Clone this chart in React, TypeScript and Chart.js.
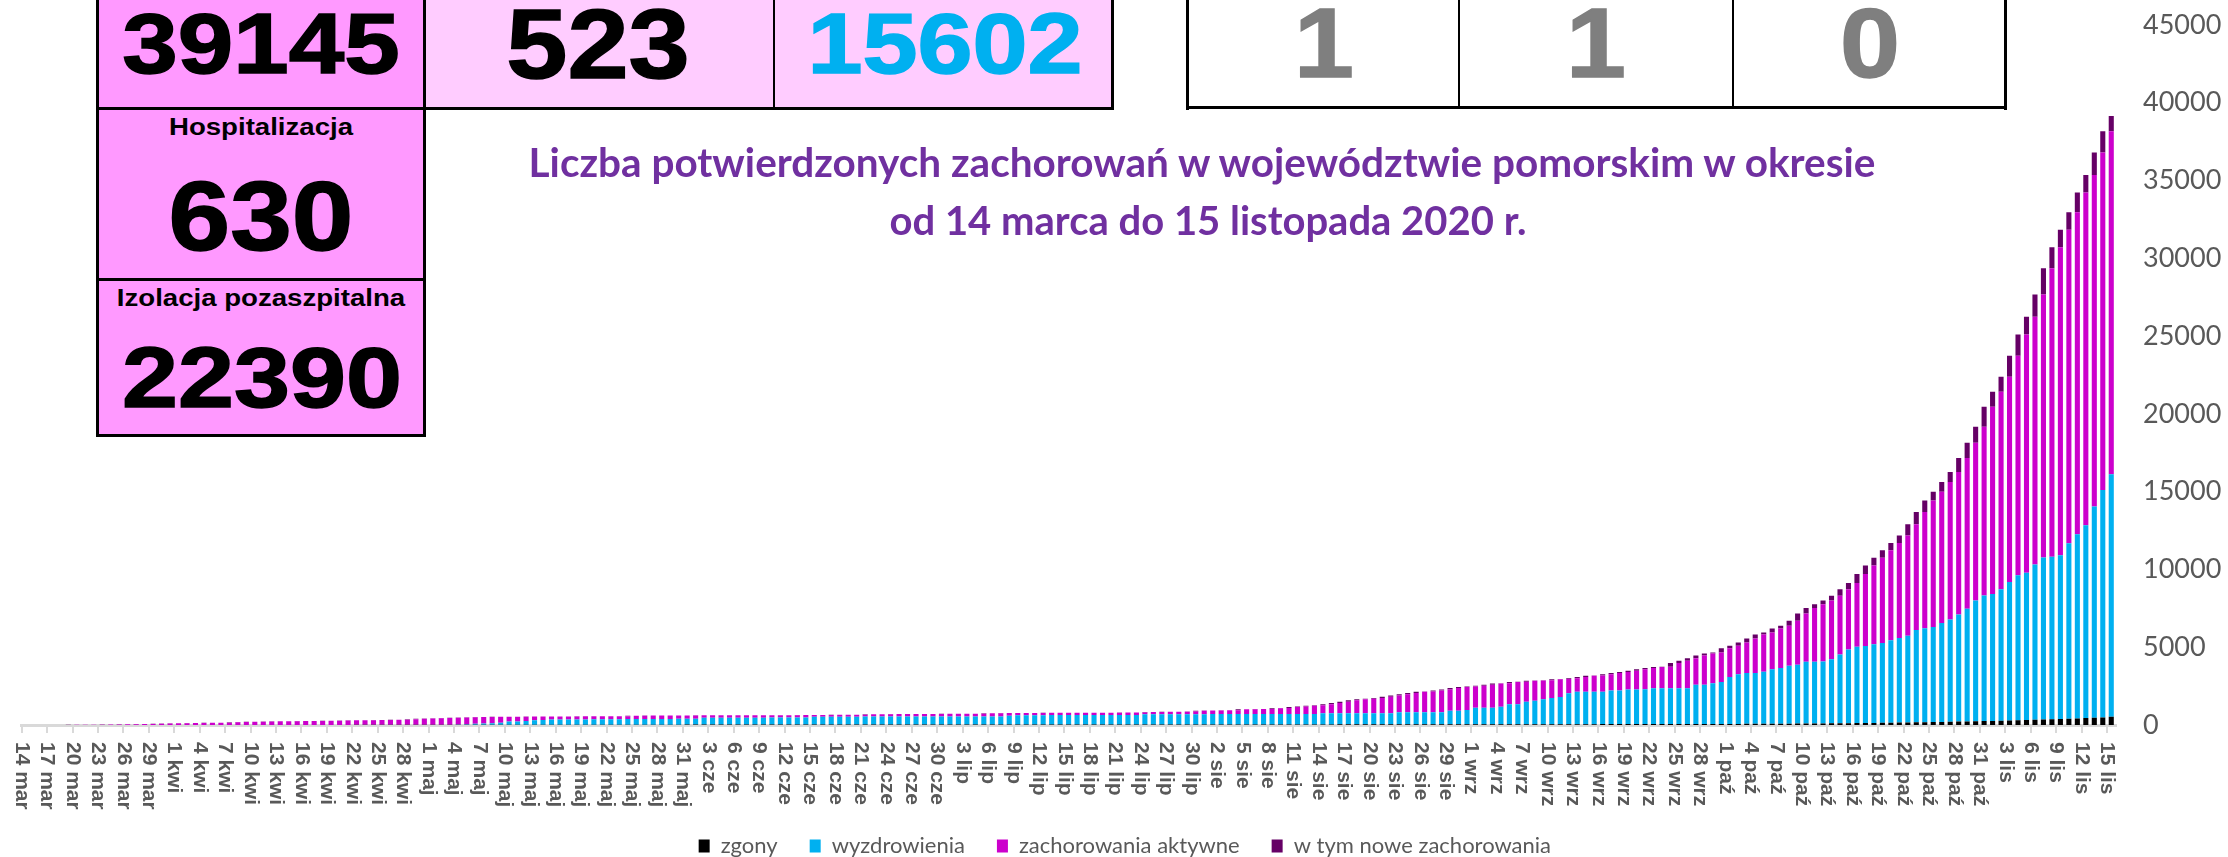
import React, { useEffect, useRef } from 'react';
import { Chart, registerables } from 'chart.js';

Chart.register(...registerables);

// ---- categories (14 mar .. 15 lis 2020) ----
const monthNames = ['mar', 'kwi', 'maj', 'cze', 'lip', 'sie', 'wrz', 'paź', 'lis'];
const monthLengths = [31, 30, 31, 30, 31, 31, 30, 31, 30];
const firstDay = 14;
const lastDay = 15;

function buildCategories(): string[] {
  const out: string[] = [];
  for (let m = 0; m < monthNames.length; m++) {
    const start = m === 0 ? firstDay : 1;
    const end = m === monthNames.length - 1 ? lastDay : monthLengths[m];
    for (let d = start; d <= end; d++) out.push(`${d} ${monthNames[m]}`);
  }
  return out;
}
const categories = buildCategories();
const tickEvery = 3;

// ---- series (cumulative) ----
const potwierdzone = [
  2, 3, 4, 6, 8, 11, 15, 19, 24, 30,
  37, 45, 54, 63, 72, 82, 95, 105, 115, 124,
  132, 140, 146, 152, 175, 190, 205, 215, 225, 234,
  240, 244, 250, 256, 262, 270, 281, 290, 299, 305,
  311, 319, 325, 331, 340, 370, 400, 421, 440, 452,
  462, 480, 498, 508, 517, 524, 530, 534, 538, 541,
  544, 547, 550, 552, 554, 555, 557, 559, 560, 562,
  565, 590, 598, 604, 608, 611, 614, 616, 618, 620,
  622, 624, 626, 627, 628, 629, 630, 631, 632, 633,
  634, 636, 638, 645, 650, 654, 657, 660, 664, 685,
  692, 697, 700, 703, 706, 709, 712, 715, 718, 720,
  722, 725, 728, 755, 762, 766, 770, 773, 776, 778,
  780, 782, 784, 786, 788, 790, 791, 792, 794, 796,
  798, 800, 835, 840, 845, 850, 855, 860, 915, 925,
  935, 942, 950, 1005, 1015, 1025, 1035, 1075, 1095, 1160,
  1185, 1240, 1265, 1330, 1410, 1500, 1585, 1650, 1680, 1735,
  1815, 1900, 1970, 2055, 2130, 2150, 2225, 2290, 2375, 2450,
  2470, 2530, 2590, 2670, 2690, 2760, 2775, 2845, 2860, 2875,
  2935, 2955, 3000, 3085, 3160, 3180, 3260, 3340, 3410, 3490,
  3580, 3665, 3730, 3750, 3985, 4135, 4285, 4460, 4600, 4660,
  4930, 5090, 5310, 5560, 5820, 5950, 6210, 6380, 6700, 7170,
  7520, 7760, 8000, 8310, 8720, 9130, 9710, 10250, 10750, 11230,
  11700, 12190, 12900, 13700, 14440, 14990, 15620, 16260, 17160, 18140,
  19180, 20460, 21430, 22390, 23740, 25110, 26250, 27680, 29360, 30710,
  31840, 32960, 34240, 35360, 36810, 38170, 39145,
];

const zgony = [
  0, 0, 0, 0, 0, 0, 0, 0, 0, 0,
  0, 0, 0, 0, 0, 0, 0, 0, 0, 0,
  1, 1, 1, 2, 2, 2, 3, 3, 3, 4,
  4, 5, 5, 6, 6, 7, 7, 8, 8, 9,
  9, 10, 10, 11, 11, 12, 12, 13, 13, 14,
  14, 15, 15, 16, 16, 17, 17, 18, 18, 19,
  19, 20, 20, 20, 21, 21, 21, 22, 22, 22,
  22, 23, 23, 23, 24, 24, 24, 24, 25, 25,
  25, 25, 25, 26, 26, 26, 26, 26, 27, 27,
  27, 27, 27, 27, 28, 28, 28, 28, 28, 29,
  29, 29, 29, 29, 29, 30, 30, 30, 30, 30,
  30, 30, 31, 31, 31, 31, 31, 31, 32, 32,
  32, 32, 32, 32, 33, 33, 33, 33, 33, 33,
  34, 34, 34, 34, 34, 35, 35, 35, 35, 35,
  36, 36, 36, 36, 37, 37, 37, 38, 38, 38,
  39, 39, 39, 40, 40, 41, 41, 42, 42, 43,
  43, 44, 44, 45, 45, 46, 46, 47, 47, 48,
  48, 49, 49, 50, 50, 51, 51, 52, 52, 53,
  53, 54, 54, 55, 56, 56, 57, 57, 58, 59,
  59, 60, 61, 61, 62, 63, 64, 65, 66, 67,
  68, 70, 72, 74, 76, 78, 81, 84, 87, 90,
  94, 98, 102, 107, 112, 117, 123, 129, 135, 142,
  149, 156, 164, 172, 180, 189, 198, 207, 217, 227,
  238, 250, 262, 275, 289, 303, 318, 334, 350, 367,
  385, 404, 424, 445, 467, 490, 523,
];

const wyzdrowienia = [
  0, 0, 0, 0, 0, 0, 0, 0, 0, 0,
  0, 0, 0, 0, 0, 0, 0, 0, 0, 0,
  0, 0, 0, 0, 0, 0, 0, 0, 0, 0,
  0, 0, 0, 0, 0, 0, 0, 0, 0, 0,
  0, 0, 0, 0, 0, 0, 0, 0, 0, 0,
  0, 20, 40, 60, 80, 100, 130, 200, 215, 240,
  290, 300, 330, 330, 330, 335, 340, 345, 350, 352,
  355, 358, 360, 362, 364, 366, 368, 380, 382, 384,
  440, 442, 444, 444, 445, 446, 447, 448, 449, 450,
  450, 450, 452, 505, 506, 507, 508, 509, 510, 510,
  511, 511, 512, 512, 513, 513, 514, 514, 515, 515,
  516, 516, 516, 516, 517, 517, 560, 600, 601, 602,
  602, 603, 603, 604, 604, 605, 605, 605, 605, 606,
  606, 607, 650, 650, 651, 651, 651, 652, 663, 664,
  664, 665, 665, 666, 666, 667, 667, 668, 668, 669,
  669, 670, 670, 710, 710, 711, 711, 712, 712, 713,
  713, 714, 770, 770, 771, 771, 772, 772, 873, 875,
  912, 1061, 1066, 1066, 1130, 1279, 1279, 1448, 1513, 1597,
  1682, 1746, 1981, 2085, 2085, 2085, 2086, 2153, 2153, 2231,
  2231, 2231, 2299, 2299, 2299, 2299, 2299, 2525, 2525, 2613,
  2697, 3015, 3188, 3266, 3266, 3352, 3499, 3581, 3728, 3790,
  3976, 3976, 3976, 4123, 4428, 4743, 4907, 4951, 5055, 5128,
  5301, 5444, 5566, 5928, 6040, 6111, 6362, 6573, 6883, 7253,
  7772, 8080, 8158, 8445, 8911, 9327, 9462, 9986, 10410, 10453,
  10525, 11286, 11846, 12395, 13583, 14620, 15602,
];

const noweZachorowania = [
  2, 1, 1, 2, 2, 3, 4, 4, 5, 6,
  7, 8, 9, 9, 9, 10, 13, 10, 10, 9,
  8, 8, 6, 6, 23, 15, 15, 10, 10, 9,
  6, 4, 6, 6, 6, 8, 11, 9, 9, 6,
  6, 8, 6, 6, 9, 30, 30, 21, 19, 12,
  10, 18, 18, 10, 9, 7, 6, 4, 4, 3,
  3, 3, 3, 2, 2, 1, 2, 2, 1, 2,
  3, 25, 8, 6, 4, 3, 3, 2, 2, 2,
  2, 2, 2, 1, 1, 1, 1, 1, 1, 1,
  1, 2, 2, 7, 5, 4, 3, 3, 4, 21,
  7, 5, 3, 3, 3, 3, 3, 3, 3, 2,
  2, 3, 3, 27, 7, 4, 4, 3, 3, 2,
  2, 2, 2, 2, 2, 2, 1, 1, 2, 2,
  2, 2, 35, 5, 5, 5, 5, 5, 55, 10,
  10, 7, 8, 55, 10, 10, 10, 40, 20, 65,
  25, 55, 25, 65, 80, 90, 85, 65, 30, 55,
  80, 85, 70, 85, 75, 20, 75, 65, 85, 75,
  20, 60, 60, 80, 20, 70, 15, 70, 15, 15,
  60, 20, 45, 85, 75, 20, 80, 80, 70, 80,
  90, 85, 65, 20, 235, 150, 150, 175, 140, 60,
  270, 160, 220, 250, 260, 130, 260, 170, 320, 470,
  350, 240, 240, 310, 410, 410, 580, 540, 500, 480,
  470, 490, 710, 800, 740, 550, 630, 640, 900, 980,
  1040, 1280, 970, 960, 1350, 1370, 1140, 1430, 1680, 1350,
  1130, 1120, 1280, 1120, 1450, 1360, 975,
];

const seriesNames = ['zgony', 'wyzdrowienia', 'zachorowania aktywne', 'w tym nowe zachorowania'];
const seriesColors = ['#000000', '#00b0f0', '#cc00cc', '#660066'];

const yMax = 45000;
const yStep = 5000;

// headline numbers
const sumaPotwierdzonych = '39145';
const sumaZgonow = '523';
const sumaWyzdrowien = '15602';
const hospitalizacja = '630';
const izolacja = '22390';
const dzisiaj = ['1', '1', '0'];
const titleLines = [
  'Liczba potwierdzonych zachorowań w województwie pomorskim w okresie',
  'od 14 marca do 15 listopada 2020 r.',
];

const aktywneBezNowych = potwierdzone.map((t, i) =>
  Math.max(0, t - zgony[i] - wyzdrowienia[i] - noweZachorowania[i])
);

const CANVAS_W = 2228;
const CANVAS_H = 867; // slightly taller than the page; the overflow is clipped
const PLOT_BOTTOM = 725;

const xLabelPlugin = {
  id: 'xLabelsDown',
  afterDraw(chart: any) {
    const xs = chart.scales.x;
    const ctx = chart.ctx as CanvasRenderingContext2D;
    const half = (xs.getPixelForValue(1) - xs.getPixelForValue(0)) / 2;
    const y0 = chart.chartArea.bottom + 17;
    ctx.save();
    ctx.font = 'bold 21px "Liberation Sans", Arial, sans-serif';
    ctx.fillStyle = '#595959';
    ctx.textAlign = 'left';
    ctx.textBaseline = 'middle';
    categories.forEach((lab, i) => {
      if (i % tickEvery !== 0) return;
      const x = xs.getPixelForValue(i) - half;
      ctx.save();
      ctx.translate(x, y0);
      ctx.rotate(Math.PI / 2);
      ctx.fillText(lab, 0, 0);
      ctx.restore();
    });
    ctx.restore();
  },
};

const ARIAL = '"Liberation Sans", Arial, sans-serif';
const LATO = 'Lato, "Open Sans", sans-serif';

function T(props: {
  cx: number; base: number; size: number; text: string; color?: string;
  fam?: string; weight?: number; sx?: number; k?: number; stroke?: number;
}) {
  const { cx, base, size, text, color = '#000', fam = ARIAL, weight = 700, sx = 1, k = 0.8465, stroke = 0 } = props;
  const st: any = {
    position: 'absolute', left: cx, top: base - k * size, fontFamily: fam, fontSize: size,
    fontWeight: weight, lineHeight: `${size}px`, color, whiteSpace: 'nowrap',
    transform: `translateX(-50%) scaleX(${sx})`,
  };
  if (stroke > 0) {
    st.WebkitTextStroke = `${stroke}px ${color}`;
  }
  return <div style={st}>{text}</div>;
}

function R(props: { l: number; t: number; w: number; h: number; c: string }) {
  return <div style={{ position: 'absolute', left: props.l, top: props.t, width: props.w, height: props.h, background: props.c }} />;
}

export default function App() {
  const ref = useRef<HTMLCanvasElement>(null);

  useEffect(() => {
    document.body.style.margin = '0';
    const canvas = ref.current!;
    const chart = new Chart(canvas, {
      type: 'bar',
      data: {
        labels: categories,
        datasets: [
          { label: seriesNames[0], data: zgony, backgroundColor: seriesColors[0] },
          { label: seriesNames[1], data: wyzdrowienia, backgroundColor: seriesColors[1] },
          { label: seriesNames[2], data: aktywneBezNowych, backgroundColor: seriesColors[2] },
          { label: seriesNames[3], data: noweZachorowania, backgroundColor: seriesColors[3] },
        ].map((d) => ({ ...d, stack: 's', barPercentage: 0.6, categoryPercentage: 1, borderWidth: 0 })),
      },
      options: {
        responsive: false,
        animation: false,
        devicePixelRatio: 1,
        layout: { padding: { left: 21.7, right: 0, top: 25, bottom: 0 } },
        plugins: {
          tooltip: { enabled: false },
          title: { display: false },
          legend: {
            position: 'bottom',
            labels: {
              boxWidth: 11,
              boxHeight: 13,
              padding: 32,
              color: '#595959',
              font: { family: LATO, size: 22 },
            },
          },
        },
        scales: {
          x: {
            stacked: true,
            offset: true,
            ticks: { display: false, autoSkip: false },
            border: { display: true, color: '#d9d9d9', width: 3 },
            grid: {
              display: true,
              drawOnChartArea: false,
              drawTicks: true,
              tickLength: 8,
              offset: true,
              lineWidth: 2,
              color: (c: any) => (c.index % tickEvery === 0 ? '#d9d9d9' : 'rgba(0,0,0,0)'),
            },
            afterFit: (s: any) => {
              const lh = s.chart.legend ? s.chart.legend.height : 40;
              s.height = CANVAS_H - PLOT_BOTTOM - lh;
            },
          },
          y: {
            stacked: true,
            position: 'right',
            min: 0,
            max: yMax,
            ticks: {
              stepSize: yStep,
              color: '#595959',
              padding: 0,
              font: { family: LATO, size: 27 },
              callback: (v: any) => String(v),
            },
            border: { display: false },
            grid: { display: false, drawTicks: true, tickLength: 27.5 },
            afterFit: (s: any) => {
              s.width = 112.5;
            },
          },
        },
      },
      plugins: [xLabelPlugin],
    } as any);
    return () => chart.destroy();
  }, []);

  const g2 = [1188, 1459, 1733, 2006];

  return (
    <div style={{ position: 'relative', width: 2228, height: 857, overflow: 'hidden', background: '#fff' }}>
      <canvas ref={ref} width={CANVAS_W} height={CANVAS_H} style={{ position: 'absolute', left: 0, top: 0, width: CANVAS_W, height: CANVAS_H }} />
      <div style={{ position: 'absolute', left: 0, top: 0, width: 2228, height: 857, pointerEvents: 'none' }}>
        {/* group 1 backgrounds */}
        <R l={97} t={0} w={327} h={108} c="#ff99ff" />
        <R l={424} t={0} w={350} h={108} c="#ffccff" />
        <R l={774} t={0} w={339} h={108} c="#ffccff" />
        <R l={97} t={108} w={327} h={328} c="#ff99ff" />
        {/* group 1 lines */}
        <R l={96} t={0} w={3} h={437} c="#000" />
        <R l={423} t={0} w={3} h={437} c="#000" />
        <R l={773} t={0} w={2} h={108} c="#000" />
        <R l={1111} t={0} w={3} h={110} c="#000" />
        <R l={96} t={107} w={1018} h={3} c="#000" />
        <R l={96} t={278} w={330} h={3} c="#000" />
        <R l={96} t={434} w={330} h={3} c="#000" />
        {/* group 2 lines */}
        <R l={g2[0] - 2} t={0} w={3} h={110} c="#000" />
        <R l={g2[1] - 1} t={0} w={2} h={108} c="#000" />
        <R l={g2[2] - 1} t={0} w={2} h={108} c="#000" />
        <R l={g2[3] - 2} t={0} w={3} h={110} c="#000" />
        <R l={g2[0] - 2} t={106} w={g2[3] - g2[0] + 3} h={3} c="#000" />

        <T cx={260.5} base={73} size={86} sx={1.16} stroke={1.5} text={sumaPotwierdzonych} />
        <T cx={598} base={78} size={99} sx={1.11} stroke={1.5} text={sumaZgonow} />
        <T cx={944.5} base={73} size={86} sx={1.15} stroke={1.5} text={sumaWyzdrowien} color="#00b0f0" />
        <T cx={260.5} base={135} size={23} sx={1.2} text="Hospitalizacja" />
        <T cx={260.5} base={250} size={98} sx={1.13} stroke={1.5} text={hospitalizacja} />
        <T cx={260.5} base={306} size={23} sx={1.2} text="Izolacja pozaszpitalna" />
        <T cx={262} base={407} size={86} sx={1.17} stroke={1.5} text={izolacja} />

        <T cx={(g2[0] + g2[1]) / 2} base={77} size={98} sx={1.1} stroke={1.5} text={dzisiaj[0]} color="#7f7f7f" />
        <T cx={(g2[1] + g2[2]) / 2} base={77} size={98} sx={1.1} stroke={1.5} text={dzisiaj[1]} color="#7f7f7f" />
        <T cx={(g2[2] + g2[3]) / 2} base={77} size={98} sx={1.1} stroke={1.5} text={dzisiaj[2]} color="#7f7f7f" />

        <T cx={1202} base={178} size={40.5} fam={LATO} k={0.887} text={titleLines[0]} color="#7030a0" />
        <T cx={1208} base={235} size={40} fam={LATO} k={0.887} text={titleLines[1]} color="#7030a0" />
      </div>
    </div>
  );
}
